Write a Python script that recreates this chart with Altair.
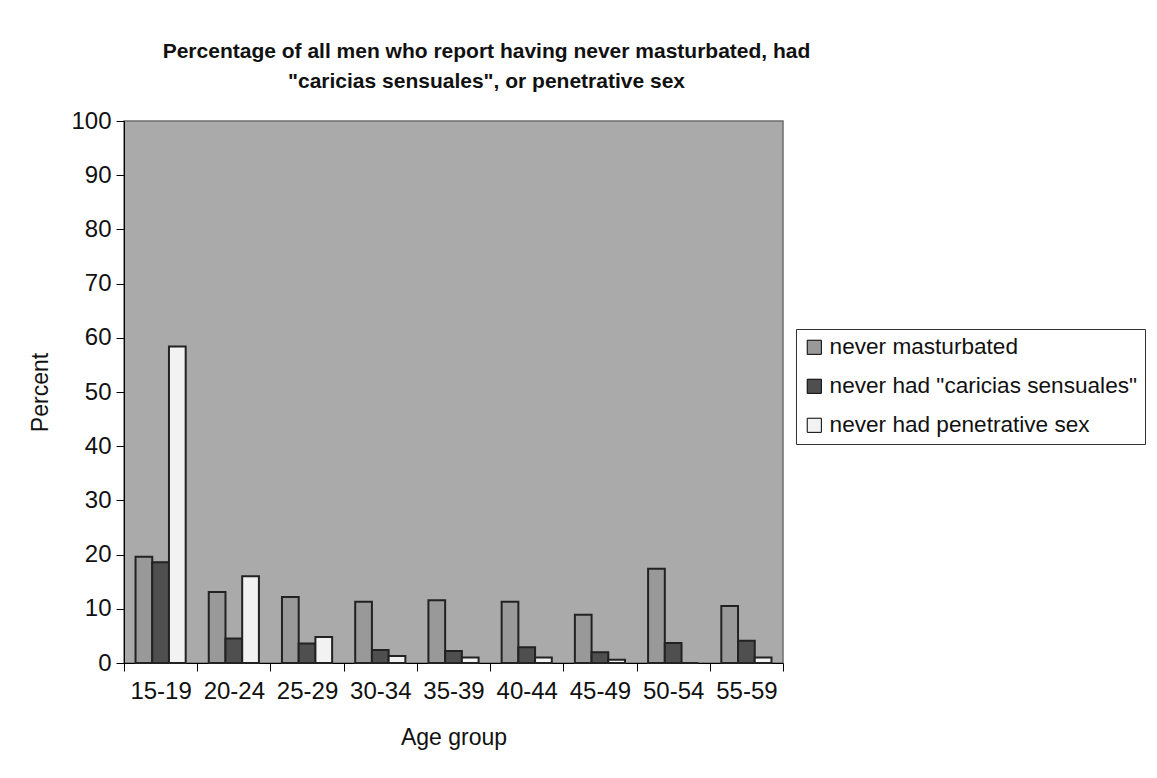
import altair as alt
import pandas as pd

ages = ["15-19", "20-24", "25-29", "30-34", "35-39", "40-44", "45-49", "50-54", "55-59"]
series_names = ["never masturbated", 'never had "caricias sensuales"', "never had penetrative sex"]
never_masturbated = [19.6, 13.1, 12.2, 11.3, 11.6, 11.3, 8.9, 17.4, 10.5]
never_caricias = [18.6, 4.5, 3.6, 2.4, 2.2, 2.9, 2.0, 3.7, 4.1]
never_penetrative = [58.4, 16.0, 4.8, 1.3, 1.0, 1.0, 0.6, 0.0, 1.0]
series_colors = ["#999999", "#4f4f4f", "#f2f2f2"]

rows = []
for values, name in zip([never_masturbated, never_caricias, never_penetrative], series_names):
    for age, v in zip(ages, values):
        rows.append({"age": age, "series": name, "value": v})
df = pd.DataFrame(rows)

FONT = "Liberation Sans"

chart = (
    alt.Chart(df)
    .mark_bar(stroke="#222222", strokeWidth=2)
    .encode(
        x=alt.X(
            "age:N",
            sort=ages,
            title="Age group",
            scale=alt.Scale(paddingInner=0, paddingOuter=0),
            axis=alt.Axis(
                labelAngle=0,
                tickBand="extent",
                tickSize=8,
                labelPadding=8,
                titlePadding=23,
                labelFontSize=24,
                titleFontSize=23,
                domainColor="black",
                tickColor="black",
                labelColor="#111111",
                titleColor="#111111",
                labelFont=FONT,
                titleFont=FONT,
                titleFontWeight="normal",
            ),
        ),
        xOffset=alt.XOffset(
            "series:N",
            sort=series_names,
            scale=alt.Scale(paddingInner=0, paddingOuter=0.69),
        ),
        y=alt.Y(
            "value:Q",
            title="Percent",
            scale=alt.Scale(domain=[0, 100], nice=False),
            axis=alt.Axis(
                values=list(range(0, 101, 10)),
                grid=False,
                tickSize=8,
                labelPadding=5,
                titlePadding=18,
                labelFontSize=24,
                titleFontSize=23,
                domainColor="black",
                tickColor="black",
                labelColor="#111111",
                titleColor="#111111",
                labelFont=FONT,
                titleFont=FONT,
                titleFontWeight="normal",
            ),
        ),
        fill=alt.Fill(
            "series:N",
            sort=series_names,
            scale=alt.Scale(domain=series_names, range=series_colors),
            legend=alt.Legend(
                title=None,
                orient="none",
                legendX=672,
                legendY=208,
                direction="vertical",
                fillColor="white",
                strokeColor="#333333",
                padding=7,
                rowPadding=16,
                symbolType="square",
                symbolSize=200,
                symbolStrokeColor="black",
                symbolStrokeWidth=1,
                labelFontSize=22.6,
                labelFont=FONT,
                labelColor="#111111",
                labelLimit=400,
                labelOffset=4,
            ),
        ),
    )
    .properties(
        width=659,
        height=542,
        title=alt.TitleParams(
            text=[
                "Percentage of all men who report having never masturbated, had",
                '"caricias sensuales", or penetrative sex',
            ],
            font=FONT,
            fontSize=21,
            fontWeight="bold",
            color="#111111",
            anchor="middle",
            dx=33,
            offset=17,
            lineHeight=30,
        ),
        autosize=alt.AutoSizeParams(type="none"),
        padding={"left": 116, "top": 113, "right": 366, "bottom": 107},
    )
    .configure(background="white")
    .configure_view(fill="#aaaaaa", stroke="#6e6e6e", strokeWidth=1.5)
)

chart.save("out.html", embed_options={"renderer": "svg", "actions": False})
